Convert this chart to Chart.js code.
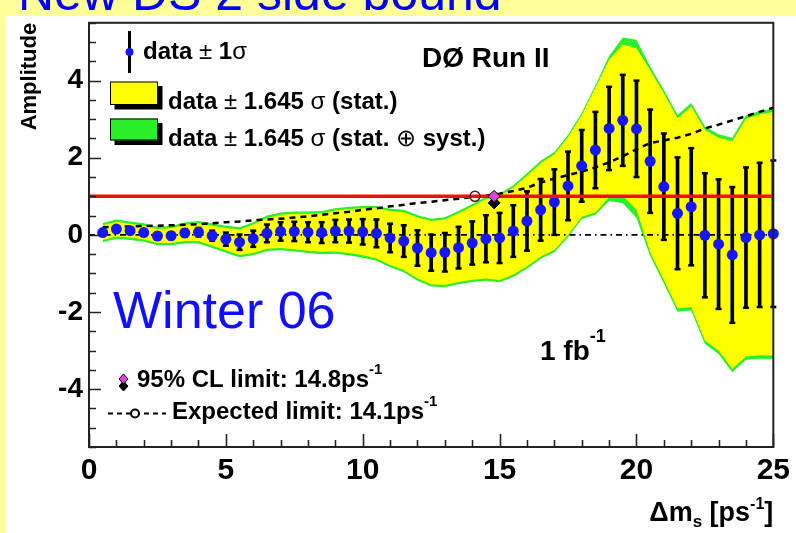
<!DOCTYPE html>
<html>
<head>
<meta charset="utf-8">
<script src="https://cdn.jsdelivr.net/npm/chart.js@4.4.1/dist/chart.umd.min.js"></script>
<style>
  html, body { margin: 0; padding: 0; }
  body { width: 796px; height: 533px; background: #ffff99; position: relative; overflow: hidden;
         font-family: "Liberation Sans", Arial, sans-serif; }
  #sheet { position: absolute; left: 6px; top: 16px; right: 0; bottom: 0; background: #fff; }
  #headline { position: absolute; left: 18px; top: -32px; font-size: 50px; line-height: 50px;
              color: #0000ff; white-space: nowrap; }
  #chartAmp { position: absolute; left: 0; top: 0; }
</style>
</head>
<body>
<div id="sheet"></div>
<div id="headline">New DS 2 side bound</div>
<canvas id="chartAmp" width="796" height="533"></canvas>
<script>
// oscillation frequency scan points [ps^-1]
const dms = [0.5, 1, 1.5, 2, 2.5, 3, 3.5, 4, 4.5, 5, 5.5, 6, 6.5, 7, 7.5, 8, 8.5, 9, 9.5, 10,
  10.5, 11, 11.5, 12, 12.5, 13, 13.5, 14, 14.5, 15, 15.5, 16, 16.5, 17, 17.5, 18, 18.5, 19, 19.5, 20,
  20.5, 21, 21.5, 22, 22.5, 23, 23.5, 24, 24.5, 25];

// fitted amplitude and its 1 sigma error
const amplitude = [0.06, 0.15, 0.11, 0.06, -0.03, -0.02, 0.05, 0.07, -0.02, -0.11,
  -0.19, -0.10, 0.04, 0.09, 0.09, 0.07, 0.06, 0.10, 0.10, 0.08,
  0.04, -0.08, -0.16, -0.34, -0.46, -0.45, -0.33, -0.21, -0.10, -0.08,
  0.10, 0.36, 0.65, 0.85, 1.27, 1.79, 2.20, 2.76, 2.97, 2.75,
  1.91, 1.25, 0.56, 0.73, -0.01, -0.24, -0.52, -0.07, 0.00, 0.03];
const sigma = [0.07, 0.07, 0.08, 0.08, 0.09, 0.09, 0.10, 0.11, 0.13, 0.17,
  0.20, 0.21, 0.23, 0.24, 0.25, 0.26, 0.27, 0.29, 0.30, 0.33,
  0.36, 0.37, 0.41, 0.46, 0.47, 0.50, 0.54, 0.56, 0.61, 0.65,
  0.67, 0.77, 0.80, 0.85, 0.89, 0.93, 0.99, 1.08, 1.18, 1.25,
  1.34, 1.38, 1.45, 1.52, 1.61, 1.68, 1.76, 1.82, 1.87, 1.90];

// half widths of the 1.645 sigma bands: stat only, stat (+) syst
const halfStat = [0.19, 0.19, 0.18, 0.18, 0.18, 0.19, 0.21, 0.23, 0.26, 0.29,
  0.33, 0.37, 0.40, 0.43, 0.46, 0.48, 0.50, 0.53, 0.57, 0.61,
  0.65, 0.70, 0.75, 0.79, 0.82, 0.85, 0.89, 0.95, 1.03, 1.09,
  1.13, 1.18, 1.21, 1.24, 1.27, 1.32, 1.62, 1.78, 1.97, 2.09,
  2.36, 2.42, 2.46, 2.60, 2.73, 2.76, 2.95, 3.08, 3.12, 3.16];
const halfTot = [0.25, 0.25, 0.24, 0.24, 0.24, 0.25, 0.27, 0.29, 0.32, 0.35,
  0.39, 0.43, 0.46, 0.49, 0.52, 0.54, 0.56, 0.59, 0.63, 0.67,
  0.71, 0.76, 0.81, 0.85, 0.88, 0.91, 0.95, 1.01, 1.09, 1.15,
  1.19, 1.24, 1.27, 1.30, 1.33, 1.38, 1.68, 1.88, 2.15, 2.31,
  2.46, 2.51, 2.55, 2.69, 2.82, 2.85, 3.04, 3.17, 3.21, 3.25];

// expected limit curve (1.645 sigma)
const expectedLimit = [0.20, 0.21, 0.22, 0.23, 0.24, 0.25, 0.26, 0.28, 0.30, 0.33,
  0.35, 0.38, 0.40, 0.42, 0.45, 0.48, 0.52, 0.56, 0.60, 0.65,
  0.69, 0.74, 0.78, 0.83, 0.86, 0.90, 0.94, 0.98, 1.02, 1.07,
  1.14, 1.22, 1.36, 1.46, 1.55, 1.64, 1.75, 1.88, 2.04, 2.22,
  2.38, 2.45, 2.52, 2.62, 2.76, 2.86, 2.97, 3.08, 3.19, 3.30];

const limitLevel = 1;
const clLimit = 14.8;
const expLimit = 14.1;

const xTickValues = [0, 5, 10, 15, 20, 25];
const yTickValues = [-4, -2, 0, 2, 4];

const FONT = '"Liberation Sans", Arial, sans-serif';
Chart.defaults.font.family = FONT;

const xy = (ys) => dms.map((x, i) => ({ x, y: ys[i] }));
const shifted = (half, sign) => dms.map((x, i) => ({ x, y: amplitude[i] + sign * half[i] }));

// inward ticks + frame, drawn like a ROOT canvas
const frameTicks = {
  id: 'frameTicks',
  afterDatasetsDraw(chart) {
    const { ctx, chartArea: a, scales: { x, y } } = chart;
    ctx.save();
    ctx.strokeStyle = '#222';
    ctx.lineWidth = 2;
    ctx.strokeRect(a.left, a.top, a.right - a.left, a.bottom - a.top);
    ctx.lineWidth = 1.6;
    ctx.beginPath();
    for (let v = -5.5; v <= 5.5; v += 0.5) {
      const py = Math.round(y.getPixelForValue(v)) + 0.5;
      const len = yTickValues.includes(v) ? 12 : 7;
      ctx.moveTo(a.left, py); ctx.lineTo(a.left + len, py);
    }
    for (let v = 0; v <= 25; v += 1) {
      const px = Math.round(x.getPixelForValue(v)) + 0.5;
      const len = xTickValues.includes(v) ? 13 : 7;
      ctx.moveTo(px, a.bottom); ctx.lineTo(px, a.bottom - len);
    }
    ctx.stroke();
    ctx.restore();
  }
};

// small caps on the error bars
const errorCaps = {
  id: 'errorCaps',
  afterDatasetDraw(chart, args) {
    if (chart.data.datasets[args.index].label !== 'data ± 1σ') return;
    const { ctx, scales: { x, y } } = chart;
    ctx.save();
    ctx.strokeStyle = '#000';
    ctx.lineWidth = 2.5;
    dms.forEach((m, i) => {
      const px = x.getPixelForValue(m);
      [amplitude[i] - sigma[i], amplitude[i] + sigma[i]].forEach(v => {
        const py = y.getPixelForValue(v);
        ctx.beginPath(); ctx.moveTo(px - 3, py); ctx.lineTo(px + 3, py); ctx.stroke();
      });
    });
    ctx.restore();
  }
};

// draws a line of mixed-font text, returns end x
function runs(ctx, x, y, parts) {
  parts.forEach(([text, font, dy]) => {
    ctx.font = font;
    ctx.fillText(text, x, y + (dy || 0));
    x += ctx.measureText(text).width;
  });
  return x;
}
function diamond(ctx, cx, cy, w, h, fill) {
  ctx.beginPath();
  ctx.moveTo(cx, cy - h); ctx.lineTo(cx + w, cy); ctx.lineTo(cx, cy + h); ctx.lineTo(cx - w, cy);
  ctx.closePath();
  ctx.fillStyle = fill; ctx.fill();
  ctx.lineWidth = 1; ctx.strokeStyle = '#000'; ctx.stroke();
}

const B = (s) => `bold ${s}px ${FONT}`;
const N = (s) => `${s}px ${FONT}`;

const annotations = {
  id: 'annotations',
  afterDraw(chart) {
    const ctx = chart.ctx;
    ctx.save();
    ctx.textBaseline = 'alphabetic';
    ctx.textAlign = 'left';
    ctx.fillStyle = '#000';

    // legend, top left
    ctx.strokeStyle = '#000';
    ctx.lineWidth = 3;
    ctx.beginPath(); ctx.moveTo(129.5, 31); ctx.lineTo(129.5, 73); ctx.stroke();
    ctx.fillStyle = '#1515ff';
    ctx.beginPath(); ctx.arc(129.5, 52, 4, 0, Math.PI * 2); ctx.fill();

    ctx.fillStyle = '#000';
    ctx.fillRect(114.5, 86, 48, 23.5);
    ctx.fillStyle = '#ffff00';
    ctx.fillRect(110, 81.5, 48, 23.5);
    ctx.lineWidth = 1;
    ctx.strokeRect(110.5, 82, 47, 22.5);
    ctx.fillStyle = '#000';
    ctx.fillRect(114.5, 123, 48, 22);
    ctx.fillStyle = '#2bef2b';
    ctx.fillRect(110, 118.5, 48, 22);
    ctx.strokeRect(110.5, 119, 47, 21);

    ctx.fillStyle = '#000';
    runs(ctx, 143, 59, [['data ', B(24)], ['±', N(24)], [' 1', B(24)], ['σ', N(24)]]);
    runs(ctx, 168, 109, [['data ', B(24)], ['±', N(24)], [' 1.645 ', B(24)], ['σ', N(24)], [' (stat.)', B(24)]]);
    runs(ctx, 168, 146, [['data ', B(24)], ['±', N(24)], [' 1.645 ', B(24)], ['σ', N(24)],
      [' (stat. ', B(24)], ['⊕', N(24)], [' syst.)', B(24)]]);

    // experiment and luminosity labels
    runs(ctx, 422, 66.5, [['DØ Run II', B(28)]]);
    runs(ctx, 540, 360, [['1 fb', B(28)], ['-1', B(18), -18]]);

    ctx.fillStyle = '#1010ff';
    runs(ctx, 113, 328, [['Winter 06', N(52)]]);

    // limits legend, bottom left
    diamond(ctx, 123.5, 386, 4.5, 5, '#000');
    diamond(ctx, 123.5, 379, 4.5, 5, '#e040e0');
    ctx.fillStyle = '#000';
    runs(ctx, 137, 387, [['95% CL limit: 14.8ps', B(24)], ['-1', B(15), -13]]);

    ctx.strokeStyle = '#000';
    ctx.lineWidth = 2;
    ctx.setLineDash([5, 4]);
    ctx.beginPath(); ctx.moveTo(108, 413.5); ctx.lineTo(166, 413.5); ctx.stroke();
    ctx.setLineDash([]);
    ctx.fillStyle = '#fff';
    ctx.beginPath(); ctx.arc(135, 413.5, 4, 0, Math.PI * 2); ctx.fill(); ctx.stroke();
    ctx.fillStyle = '#000';
    runs(ctx, 172, 419, [['Expected limit: 14.1ps', B(24)], ['-1', B(15), -13]]);

    // x axis title, right aligned at the frame edge
    const parts = [['Δm', B(27)], ['s', B(17), 6], [' [ps', B(27)], ['-1', B(16), -12], [']', B(27)]];
    let w = 0;
    parts.forEach(([t, f]) => { ctx.font = f; w += ctx.measureText(t).width; });
    runs(ctx, chart.chartArea.right - w, 521, parts);
    ctx.restore();
  }
};

const lineDefaults = { type: 'line', pointRadius: 0, tension: 0, fill: false };

new Chart(document.getElementById('chartAmp'), {
  type: 'scatter',
  data: {
    datasets: [
      { ...lineDefaults, label: 'totLo', data: shifted(halfTot, -1), borderWidth: 0, order: 10 },
      { ...lineDefaults, label: 'data ± 1.645 σ (stat. ⊕ syst.)', data: shifted(halfTot, 1),
        borderWidth: 0, backgroundColor: '#2bef2b', fill: { target: 0 }, order: 9 },
      { ...lineDefaults, label: 'statLo', data: shifted(halfStat, -1), borderWidth: 0, order: 8 },
      { ...lineDefaults, label: 'data ± 1.645 σ (stat.)', data: shifted(halfStat, 1),
        borderWidth: 0, backgroundColor: '#ffff00', fill: { target: 2 }, order: 7 },
      { ...lineDefaults, label: 'zero', data: [{ x: 0, y: 0 }, { x: 25, y: 0 }],
        borderColor: '#000', borderWidth: 1.8, borderDash: [6, 4, 1.5, 4], order: 6 },
      { ...lineDefaults, label: 'Expected limit', data: xy(expectedLimit),
        borderColor: '#000', borderWidth: 2.5, borderDash: [6, 5], order: 5 },
      { type: 'bar', label: 'data ± 1σ', data: dms.map((x, i) => ({ x, y: [amplitude[i] - sigma[i], amplitude[i] + sigma[i]] })),
        backgroundColor: '#000', barThickness: 3, borderWidth: 0, borderSkipped: false, grouped: false, order: 4 },
      { label: 'amplitude', data: xy(amplitude), pointRadius: 5.5, pointBackgroundColor: '#1515ff',
        pointBorderWidth: 0, clip: false, order: 3 },
      { ...lineDefaults, label: 'limit level', data: [{ x: 0, y: limitLevel }, { x: 25, y: limitLevel }],
        borderColor: '#ee1111', borderWidth: 3.5, order: 2 },
      { label: 'expected limit point', data: [{ x: expLimit, y: limitLevel }], pointRadius: 5,
        pointBackgroundColor: 'rgba(0,0,0,0)', pointBorderColor: '#5a1a1a', pointBorderWidth: 1.5, order: 1 },
      { label: 'cl shadow', data: [{ x: clLimit, y: limitLevel - 0.17 }], pointStyle: 'rectRot', pointRadius: 6,
        pointBackgroundColor: '#000', pointBorderColor: '#000', pointBorderWidth: 1, order: 1 },
      { label: '95% CL limit', data: [{ x: clLimit, y: limitLevel }], pointStyle: 'rectRot', pointRadius: 6,
        pointBackgroundColor: '#e040e0', pointBorderColor: '#000', pointBorderWidth: 1, order: 0 }
    ]
  },
  options: {
    responsive: false,
    animation: false,
    events: [],
    layout: { padding: { left: 0, top: 22, right: 19, bottom: 0 } },
    plugins: { legend: { display: false }, tooltip: { enabled: false } },
    scales: {
      x: {
        type: 'linear', min: 0, max: 25, offset: false,
        grid: { display: false, drawTicks: false }, border: { display: false },
        ticks: { font: { size: 30, weight: 'bold' }, color: '#000', padding: 6, maxRotation: 0, autoSkip: false },
        afterBuildTicks: s => { s.ticks = xTickValues.map(v => ({ value: v })); },
        afterFit: s => { s.height = 86; }
      },
      y: {
        type: 'linear', min: -5.5, max: 5.5,
        grid: { display: false, drawTicks: false }, border: { display: false },
        ticks: { font: { size: 28, weight: 'bold' }, color: '#000', padding: 6, autoSkip: false },
        afterBuildTicks: s => { s.ticks = yTickValues.map(v => ({ value: v })); },
        afterFit: s => { s.width = 89; },
        title: { display: true, text: 'Amplitude', align: 'end', color: '#000',
                 font: { size: 22, weight: 'bold' }, padding: { top: 17, bottom: 0 } }
      }
    }
  },
  plugins: [frameTicks, errorCaps, annotations]
});
</script>
</body>
</html>
